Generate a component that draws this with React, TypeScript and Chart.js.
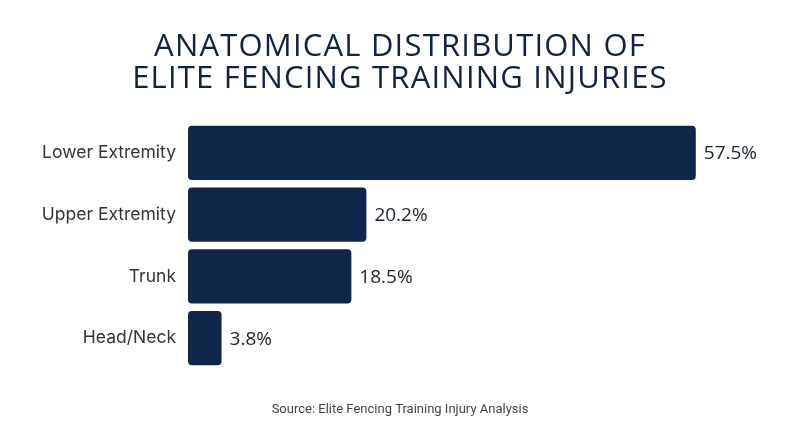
import React, { useEffect, useRef } from "react";
import { Chart, registerables } from "chart.js";

Chart.register(...registerables);

const categories: string[] = ["Lower Extremity", "Upper Extremity", "Trunk", "Head/Neck"];
const values: number[] = [57.5, 20.2, 18.5, 3.8];
const titleLines: string[] = ["ANATOMICAL DISTRIBUTION OF", "ELITE FENCING TRAINING INJURIES"];
const sourceText = "Source: Elite Fencing Training Injury Analysis";

const NAVY = "#10254a";

const textPlugin = {
  id: "texts",
  afterDraw(chart: any) {
    const ctx = chart.ctx;
    ctx.save();
    ctx.fillStyle = "#0f2244";
    ctx.textAlign = "center";
    ctx.textBaseline = "middle";
    ctx.font = "500 31px 'Open Sans'";
    (ctx as any).letterSpacing = "1.2px";
    ctx.fillText(titleLines[0], 400, 47);
    ctx.fillText(titleLines[1], 400, 79);
    (ctx as any).letterSpacing = "0px";
    ctx.fillStyle = "#444444";
    ctx.font = "400 13px Roboto";
    ctx.fillText(sourceText, 400, 410);

    // value labels
    const meta = chart.getDatasetMeta(0);
    ctx.fillStyle = "#1a2238";
    ctx.textAlign = "left";
    ctx.font = "500 19px 'Open Sans'";
    meta.data.forEach((bar: any, i: number) => {
      ctx.fillText(values[i].toFixed(1) + "%", bar.x + 8, bar.y + 1);
    });
    ctx.restore();
  },
};

export default function App() {
  const ref = useRef<HTMLCanvasElement | null>(null);
  useEffect(() => {
    document.body.style.margin = "0";
    const chart = new Chart(ref.current as HTMLCanvasElement, {
      type: "bar",
      data: {
        labels: categories,
        datasets: [
          {
            data: values,
            backgroundColor: NAVY,
            borderRadius: 4,
            borderSkipped: false,
            barPercentage: 0.88,
            categoryPercentage: 1,
          },
        ],
      },
      options: {
        indexAxis: "y",
        animation: false,
        responsive: false,
        layout: { padding: { top: 122, bottom: 78, left: 0, right: 38 } },
        plugins: { legend: { display: false }, title: { display: false }, tooltip: { enabled: false } },
        scales: {
          x: { display: false, min: 0, max: 65 },
          y: {
            grid: { display: false },
            border: { display: false },
            ticks: { color: "#333333", padding: 4, font: { family: "Inter", size: 17.5 } },
            afterFit: (scale: any) => {
              scale.width = 188;
            },
          },
        },
      },
      plugins: [textPlugin],
    });
    return () => chart.destroy();
  }, []);
  return (
    <div style={{ width: 800, height: 447, background: "#fff" }}>
      <canvas ref={ref} width={800} height={447} style={{ display: "block" }} />
    </div>
  );
}
